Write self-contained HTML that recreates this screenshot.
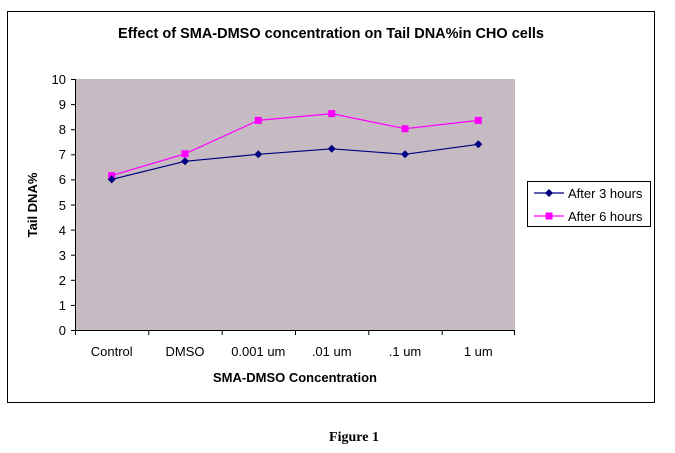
<!DOCTYPE html>
<html><head><meta charset="utf-8"><style>
body{margin:0;background:#fff;}
svg{display:block;}
text{font-family:"Liberation Sans",Arial,sans-serif;fill:#000;}
</style></head><body>
<svg width="675" height="453" viewBox="0 0 675 453" xmlns="http://www.w3.org/2000/svg">
<rect x="0" y="0" width="675" height="453" fill="#fff"/>
<rect x="7.5" y="11.5" width="647" height="391" fill="#fff" stroke="#000" stroke-width="1"/>
<text x="331" y="38" font-size="14.5" font-weight="bold" text-anchor="middle">Effect of SMA-DMSO concentration on Tail DNA%in CHO cells</text>
<rect x="75" y="79" width="440" height="251" fill="#c6bac3"/>
<line x1="75.5" y1="79" x2="75.5" y2="330" stroke="#000"/>
<line x1="75" y1="330.5" x2="515" y2="330.5" stroke="#000"/>
<g stroke="#000">
<line x1="71" y1="79.5" x2="75" y2="79.5"/><line x1="71" y1="104.6" x2="75" y2="104.6"/><line x1="71" y1="129.7" x2="75" y2="129.7"/><line x1="71" y1="154.8" x2="75" y2="154.8"/><line x1="71" y1="179.9" x2="75" y2="179.9"/><line x1="71" y1="205" x2="75" y2="205"/><line x1="71" y1="230.1" x2="75" y2="230.1"/><line x1="71" y1="255.2" x2="75" y2="255.2"/><line x1="71" y1="280.3" x2="75" y2="280.3"/><line x1="71" y1="305.4" x2="75" y2="305.4"/><line x1="71" y1="330.5" x2="75" y2="330.5"/>
<line x1="75.5" y1="330" x2="75.5" y2="335"/><line x1="148.8" y1="330" x2="148.8" y2="335"/><line x1="222.2" y1="330" x2="222.2" y2="335"/><line x1="295.5" y1="330" x2="295.5" y2="335"/><line x1="368.8" y1="330" x2="368.8" y2="335"/><line x1="442.2" y1="330" x2="442.2" y2="335"/><line x1="514.5" y1="330" x2="514.5" y2="335"/>
</g>
<g font-size="13" text-anchor="end">
<text x="66" y="84">10</text><text x="66" y="109">9</text><text x="66" y="134">8</text><text x="66" y="159">7</text><text x="66" y="184">6</text><text x="66" y="210">5</text><text x="66" y="235">4</text><text x="66" y="260">3</text><text x="66" y="285">2</text><text x="66" y="310">1</text><text x="66" y="335">0</text>
</g>
<g font-size="13" text-anchor="middle">
<text x="111.7" y="356">Control</text><text x="185" y="356">DMSO</text><text x="258.3" y="356">0.001 um</text><text x="331.7" y="356">.01 um</text><text x="405" y="356">.1 um</text><text x="478.3" y="356">1 um</text>
</g>
<text x="295" y="382" font-size="13" font-weight="bold" text-anchor="middle">SMA-DMSO Concentration</text>
<text transform="translate(37,205) rotate(-90)" font-size="13" font-weight="bold" text-anchor="middle">Tail DNA%</text>
<polyline points="111.7,175.6 185,153.8 258.3,120.4 331.7,113.6 405,128.7 478.3,120.4" fill="none" stroke="#ff00ff" stroke-width="1.2"/>
<g fill="#ff00ff">
<rect x="108.2" y="172.1" width="7" height="7"/><rect x="181.5" y="150.3" width="7" height="7"/><rect x="254.8" y="116.9" width="7" height="7"/><rect x="328.2" y="110.1" width="7" height="7"/><rect x="401.5" y="125.2" width="7" height="7"/><rect x="474.8" y="116.9" width="7" height="7"/>
</g>
<polyline points="111.7,179.4 185,161.3 258.3,154.3 331.7,148.8 405,154.3 478.3,144.3" fill="none" stroke="#000080" stroke-width="1.2"/>
<g fill="#000080">
<polygon points="111.7,175.4 115.7,179.4 111.7,183.4 107.7,179.4"/><polygon points="185,157.3 189,161.3 185,165.3 181,161.3"/><polygon points="258.3,150.3 262.3,154.3 258.3,158.3 254.3,154.3"/><polygon points="331.7,144.8 335.7,148.8 331.7,152.8 327.7,148.8"/><polygon points="405,150.3 409,154.3 405,158.3 401,154.3"/><polygon points="478.3,140.3 482.3,144.3 478.3,148.3 474.3,144.3"/>
</g>
<rect x="527.5" y="181.5" width="123" height="45" fill="#fff" stroke="#000"/>
<line x1="534" y1="193" x2="564" y2="193" stroke="#000080" stroke-width="1.2"/>
<polygon points="549,189 553,193 549,197 545,193" fill="#000080"/>
<line x1="534" y1="216" x2="564" y2="216" stroke="#ff00ff" stroke-width="1.2"/>
<rect x="545.5" y="212.5" width="7" height="7" fill="#ff00ff"/>
<text x="568" y="198" font-size="13">After 3 hours</text>
<text x="568" y="221" font-size="13">After 6 hours</text>
<text x="354" y="441" font-size="14" font-weight="bold" text-anchor="middle" style="font-family:'Liberation Serif',serif">Figure 1</text>
</svg>
</body></html>
